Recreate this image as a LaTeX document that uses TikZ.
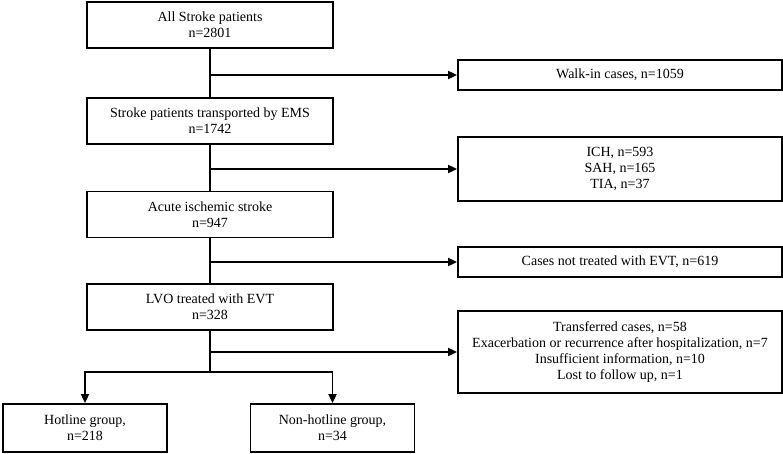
\documentclass[tikz,border=0pt]{standalone}
\usepackage{fontspec}
\setmainfont{Liberation Serif}
\usetikzlibrary{arrows.meta}
\begin{document}
\begin{tikzpicture}[x=1pt, y=-1pt, line width=1.8pt,
    every node/.style={font=\fontsize{14}{16}\selectfont, align=center, inner sep=0pt},
    mainbox/.style={draw, minimum width=246pt, minimum height=46pt},
    sidebox/.style={draw, minimum width=324pt},
    groupbox/.style={draw, minimum width=164pt, minimum height=48pt},
    arr/.style={-{Triangle[length=9pt, width=8pt]}}]
    \useasboundingbox (0, 0) rectangle (783, 453);

    \node[mainbox] at (210, 25)    (all)    {All Stroke patients\\n=2801};
    \node[mainbox] at (210, 121)   (ems)    {Stroke patients transported by EMS\\n=1742};
    \node[mainbox] at (210, 214.5) (ais)    {Acute ischemic stroke\\n=947};
    \node[mainbox] at (210, 307)   (lvo)    {LVO treated with EVT\\n=328};

    \node[sidebox, minimum height=30pt] at (620, 75)  (walkin)   {Walk-in cases, n=1059};
    \node[sidebox, minimum height=64pt] at (620, 169) (hemo)     {ICH, n=593\\SAH, n=165\\TIA, n=37};
    \node[sidebox, minimum height=30pt] at (620, 262) (noevt)    {Cases not treated with EVT, n=619};
    \node[sidebox, minimum height=82pt] at (620, 352) (excluded) {Transferred cases, n=58\\Exacerbation or recurrence after hospitalization, n=7\\Insufficient information, n=10\\Lost to follow up, n=1};

    \node[groupbox] at (85, 428)  (hotline)    {Hotline group,\\n=218};
    \node[groupbox] at (332.5, 428) (nonhotline) {Non-hotline group,\\n=34};

    \coordinate (split) at (210, 372);

    \draw (all) -- (ems);
    \draw (ems) -- (ais);
    \draw (ais) -- (lvo);
    \draw (lvo) -- (split);

    \draw[arr] (all.south |- walkin.west) -- (walkin.west);
    \draw[arr] (ems.south |- hemo.west) -- (hemo.west);
    \draw[arr] (ais.south |- noevt.west) -- (noevt.west);
    \draw[arr] (lvo.south |- excluded.west) -- (excluded.west);

    \draw[arr] (split) -| (hotline.north);
    \draw[arr] (split) -| (nonhotline.north);
  \end{tikzpicture}
\end{document}
